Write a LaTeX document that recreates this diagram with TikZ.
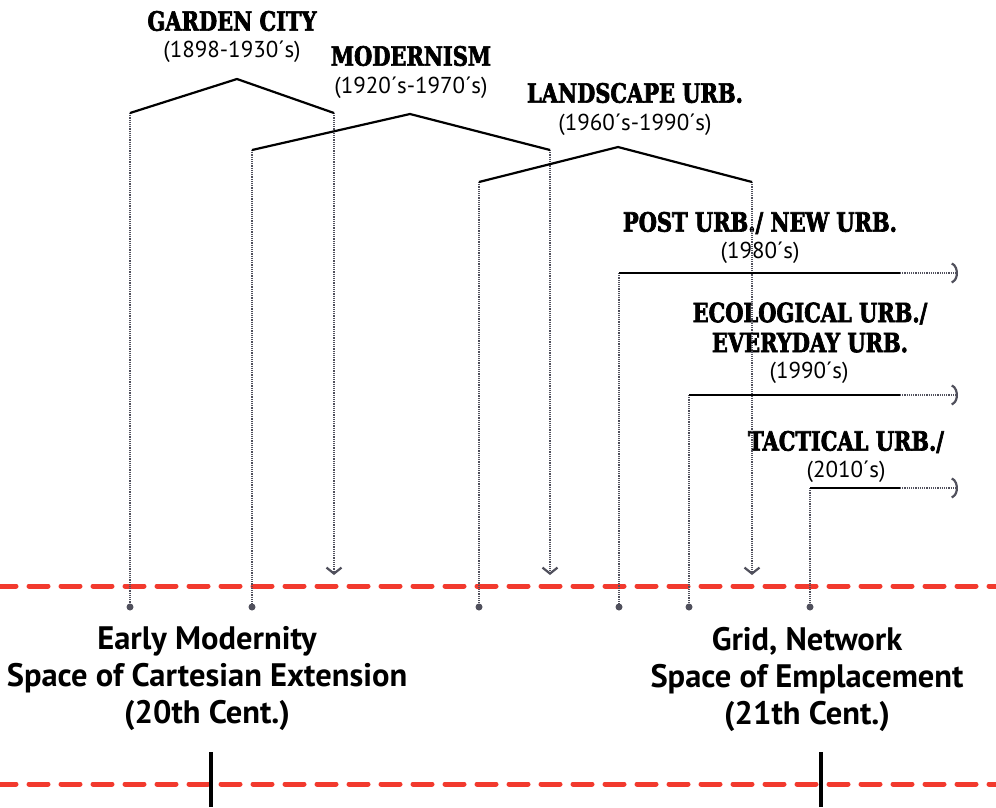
\documentclass[tikz,border=0pt]{standalone}
\usepackage{fontspec}
\setmainfont{PT Sans}
\newfontfamily\stencilfont[FakeStretch=0.79, BoldFeatures={FakeBold=2.5}]{DejaVu Serif}
\usetikzlibrary{arrows.meta}
\definecolor{dashred}{HTML}{F23A2E}
\definecolor{dotgray}{HTML}{50505C}
\begin{document}
\begin{tikzpicture}[x=1pt,y=-1pt,
  title/.style={font=\stencilfont\bfseries\fontsize{26.5}{30}\selectfont, inner sep=0pt, align=center},
  datelbl/.style={font=\fontsize{23}{25}\selectfont, inner sep=0pt},
  eralbl/.style={font=\bfseries\fontsize{32.5}{37}\selectfont, align=center, inner sep=0pt},
  roof/.style={line width=2.2pt, black, line join=round},
  hline/.style={line width=2.2pt, black},
  guide/.style={dotgray, line width=1.4pt, dash pattern=on 1.1pt off 1.1pt},
  downtip/.style={guide, -{Straight Barb[length=6pt,width=15pt,line width=2.2pt]}},
  righttip/.style={guide, -{Arc Barb[arc=150,length=8pt,width=22pt,line width=2.2pt]}},
  dotnode/.style={circle, fill=dotgray, inner sep=0pt, minimum size=7pt},
  reddash/.style={dashred, line width=5pt, line cap=round, dash pattern=on 19pt off 13pt},
  tickmark/.style={line width=3.5pt, black}]
\useasboundingbox (0,0) rectangle (996,807);

% titles and dates
\node[title] (tGC) at (232,21) {GARDEN CITY};
\node[datelbl] (dGC) at (232,52) {(1898-1930´s)};
\node[title] (tMO) at (411,56) {MODERNISM};
\node[datelbl] (dMO) at (411,88) {(1920´s-1970´s)};
\node[title] (tLA) at (635,93) {LANDSCAPE URB.};
\node[datelbl] (dLA) at (635,125) {(1960´s-1990´s)};
\node[title] (tPO) at (760,223) {POST URB./ NEW URB.};
\node[datelbl] (dPO) at (760,253) {(1980´s)};
\node[title] (tEC) at (810,327.5) {ECOLOGICAL URB./\\EVERYDAY URB.};
\node[datelbl] (dEC) at (809,373) {(1990´s)};
\node[title] (tTA) at (846,442) {TACTICAL URB./};
\node[datelbl] (dTA) at (846,472) {(2010´s)};

% roof coordinates
\coordinate (gcL) at (130,113);
\coordinate (gcP) at (237,79);
\coordinate (gcR) at (334,113);
\coordinate (moL) at (252,150);
\coordinate (moP) at (410,114);
\coordinate (moR) at (550,150);
\coordinate (laL) at (479,182);
\coordinate (laP) at (618,147);
\coordinate (laR) at (752,182);
\coordinate (poL) at (619,273);
\coordinate (poM) at (900,273);
\coordinate (poE) at (958,273);
\coordinate (ecL) at (689,395);
\coordinate (ecM) at (900,395);
\coordinate (ecE) at (958,395);
\coordinate (taL) at (810,488);
\coordinate (taM) at (900,488);
\coordinate (taE) at (958,488);

% arrow ends
\coordinate (aGC) at (334,575);
\coordinate (aMO) at (550,575);
\coordinate (aLA) at (752,575);

% dots
\node[dotnode] (dot1) at (130,607) {};
\node[dotnode] (dot2) at (252,607) {};
\node[dotnode] (dot3) at (479,607) {};
\node[dotnode] (dot4) at (619,607) {};
\node[dotnode] (dot5) at (689,607) {};
\node[dotnode] (dot6) at (810,607) {};

% red lines
\coordinate (r1L) at (-3,586);
\coordinate (r1R) at (1000,586);
\coordinate (r2L) at (-3,784);
\coordinate (r2R) at (1000,784);
\draw[reddash] (r1L) -- (r1R);
\draw[reddash] (r2L) -- (r2R);

% guides
\draw[guide] (gcL) -- (dot1);
\draw[downtip] (gcR) -- (aGC);
\draw[guide] (moL) -- (dot2);
\draw[downtip] (moR) -- (aMO);
\draw[guide] (laL) -- (dot3);
\draw[downtip] (laR) -- (aLA);
\draw[guide] (poL) -- (dot4);
\draw[guide] (ecL) -- (dot5);
\draw[guide] (taL) -- (dot6);

% roofs
\draw[roof] (gcL) -- (gcP) -- (gcR);
\draw[roof] (moL) -- (moP) -- (moR);
\draw[roof] (laL) -- (laP) -- (laR);

% horizontal ongoing lines
\draw[hline] (poL) -- (poM);
\draw[righttip] (poM) -- (poE);
\draw[hline] (ecL) -- (ecM);
\draw[righttip] (ecM) -- (ecE);
\draw[hline] (taL) -- (taM);
\draw[righttip] (taM) -- (taE);

% era labels
\node[eralbl] (eraL) at (207,679) {Early Modernity\\Space of Cartesian Extension\\(20th Cent.)};
\node[eralbl] (eraR) at (807,679) {Grid, Network\\Space of Emplacement\\(21th Cent.)};

% ticks
\coordinate (t1T) at (211,752);
\coordinate (t1B) at (211,807);
\coordinate (t2T) at (821,752);
\coordinate (t2B) at (821,807);
\draw[tickmark] (t1T) -- (t1B);
\draw[tickmark] (t2T) -- (t2B);
\end{tikzpicture}
\end{document}
